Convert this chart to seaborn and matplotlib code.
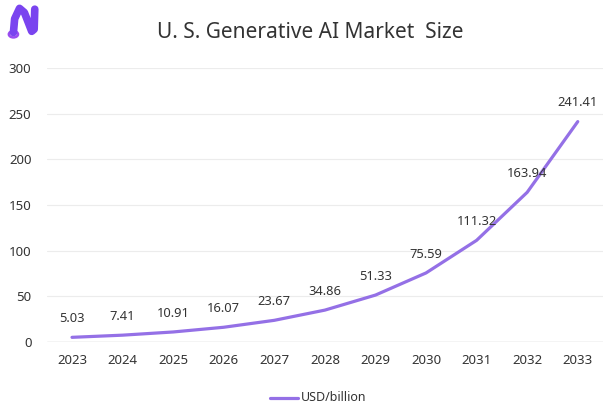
import numpy as np
import pandas as pd
import matplotlib
matplotlib.use("Agg")
import matplotlib.pyplot as plt
from matplotlib.lines import Line2D
from matplotlib.patches import Circle
import seaborn as sns

# ------------------------------------------------------------------
# Data
# ------------------------------------------------------------------
years = ["2023", "2024", "2025", "2026", "2027", "2028",
         "2029", "2030", "2031", "2032", "2033"]
market_size = [5.03, 7.41, 10.91, 16.07, 23.67, 34.86,
               51.33, 75.59, 111.32, 163.94, 241.41]
y_ticks = [0, 50, 100, 150, 200, 250, 300]
series_name = "USD/billion"
title = "U. S. Generative AI Market  Size"

df = pd.DataFrame({"year": years, "value": market_size})
df["x"] = np.arange(len(years))

# ------------------------------------------------------------------
# Style
# ------------------------------------------------------------------
sns.set_theme(style="white")
plt.rcParams["font.family"] = ["Noto Sans", "DejaVu Sans"]
line_color = "#9470e6"
text_color = "#333333"

fig = plt.figure(figsize=(6.1, 4.18), dpi=100)
ax = fig.add_axes([0.0766, 0.182, 0.912, 0.655])

sns.lineplot(data=df, x="x", y="value", ax=ax, color=line_color,
             linewidth=2.3, label=series_name, legend=False)

for xi, v in zip(df["x"], df["value"]):
    ax.annotate(f"{v:.2f}", (xi, v), textcoords="offset points",
                xytext=(0, 13.5), ha="center", va="center",
                fontsize=9.3, color=text_color)

ax.set_xlim(-0.5, len(years) - 0.5)
ax.set_ylim(0, 300)
ax.set_xticks(df["x"])
ax.set_xticklabels(years)
ax.set_yticks(y_ticks)
ax.tick_params(axis="both", length=0, labelsize=9.5, colors=text_color)
ax.tick_params(axis="x", pad=9)
ax.tick_params(axis="y", pad=11)
ax.set_xlabel("")
ax.set_ylabel("")
ax.yaxis.grid(True, color="#ececec", linewidth=0.8)
ax.axhline(0, color="#d0d0d0", linewidth=1.0)
for s in ax.spines.values():
    s.set_visible(False)

fig.text(0.508, 0.922, title, ha="center", va="center",
         fontsize=15, color=text_color)

# legend at bottom
fig.add_artist(Line2D([0.443, 0.488], [0.048, 0.048], color=line_color,
                      linewidth=2.3, transform=fig.transFigure))
fig.text(0.494, 0.048, series_name, ha="left", va="center",
         fontsize=9, color=text_color)

# simple logo in the corner
fig.add_artist(Line2D([0.022, 0.024, 0.032, 0.040, 0.052, 0.056, 0.057],
                      [0.922, 0.955, 0.980, 0.970, 0.925, 0.930, 0.978],
                      color="#7a44ef", linewidth=5.5,
                      solid_capstyle="round", solid_joinstyle="round",
                      transform=fig.transFigure))
fig.add_artist(Circle((0.022, 0.918), 0.0075, color="white", ec="#9b4df0",
                      lw=1.8, transform=fig.transFigure))

fig.savefig("out.png", dpi=100, facecolor="white")
